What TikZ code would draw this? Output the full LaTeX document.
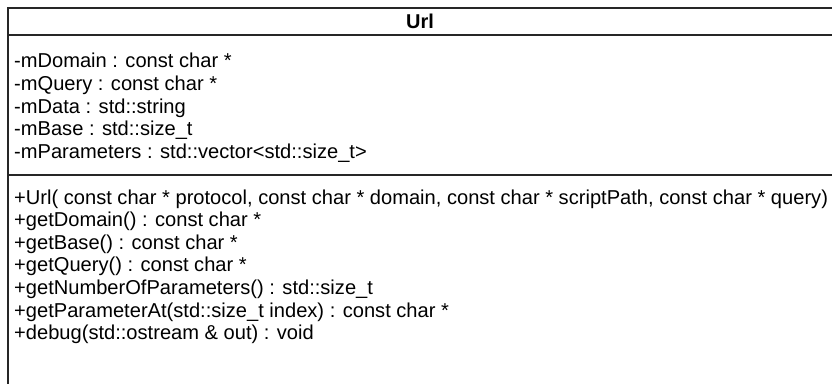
\documentclass[tikz,border=0pt]{standalone}
\usepackage{fontspec}
\setmainfont{Liberation Sans}
\begin{document}
\begin{tikzpicture}[x=1pt,y=1pt,
  member/.style={anchor=base west, inner sep=0pt, font=\fontsize{20.1}{24}\selectfont},
  classtitle/.style={anchor=base, inner sep=0pt, font=\fontsize{20}{24}\selectfont\bfseries},
  frame/.style={draw=black!85, line width=1.4pt}]
\useasboundingbox (0,0) rectangle (832,383);
\begin{scope}
\clip (0,0) rectangle (832,383);
\draw[frame] (8,375) rectangle (845,-10);
\draw[frame] (8,348) -- (845,348);
\draw[frame] (8,208) -- (845,208);
\end{scope}
\node[classtitle] (title) at (420,354) {Url};
\node[member] (a1) at (14,315.0) {-mDomain : const char *};
\node[member] (a2) at (14,292.4) {-mQuery : const char *};
\node[member] (a3) at (14,269.8) {-mData : std::string};
\node[member] (a4) at (14,247.2) {-mBase : std::size\_t};
\node[member] (a5) at (14,224.6) {-mParameters : std::vector<std::size\_t>};
\node[member] (m1) at (14,178.8) {+Url( const char * protocol, const char * domain, const char * scriptPath, const char * query)};
\node[member] (m2) at (14,156.2) {+getDomain() : const char *};
\node[member] (m3) at (14,133.6) {+getBase() : const char *};
\node[member] (m4) at (14,111.0) {+getQuery() : const char *};
\node[member] (m5) at (14,88.4) {+getNumberOfParameters() : std::size\_t};
\node[member] (m6) at (14,65.8) {+getParameterAt(std::size\_t index) : const char *};
\node[member] (m7) at (14,43.2) {+debug(std::ostream \& out) : void};
\end{tikzpicture}
\end{document}
